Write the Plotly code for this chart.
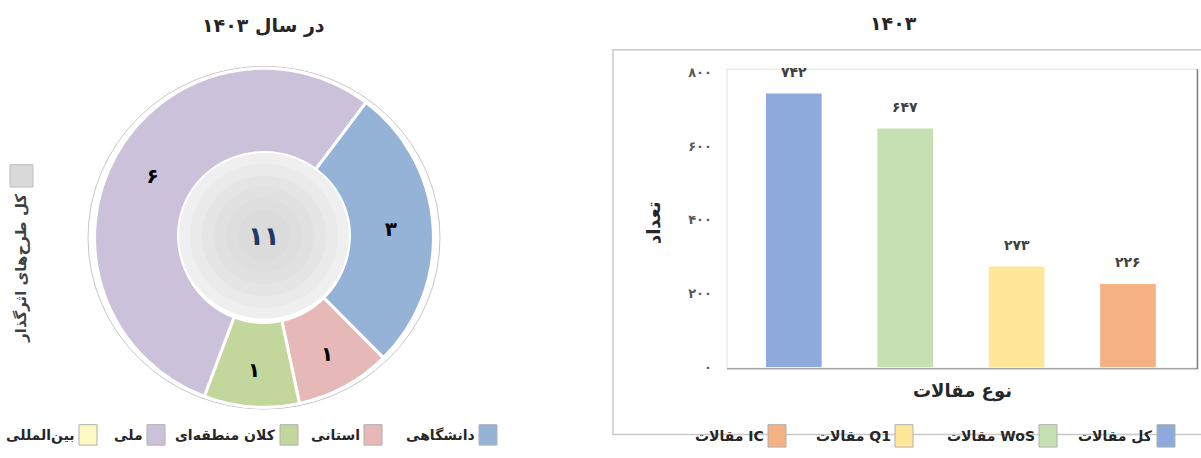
import plotly.graph_objects as go

W, H = 1201, 458

# ---- data ----
pie_labels = ['دانشگاهی', 'استانی', 'کلان منطقه‌ای', 'ملی', 'بین‌المللی']
pie_values = [3, 1, 1, 6, 0]
pie_colors = ['#95B3D7', '#E6B9B8', '#C3D69B', '#CCC1DA', '#FFF9C4']
pie_total = 11
pie_title = 'در سال ۱۴۰۳'
pie_side_label = 'کل طرح‌های اثرگذار'

bar_categories = ['کل مقالات', 'مقالات WoS', 'مقالات Q1', 'مقالات IC']
bar_values = [742, 647, 273, 226]
bar_colors = ['#8EA9DB', '#C6E0B4', '#FFE699', '#F4B183']
bar_title = '۱۴۰۳'
y_ticks = [0, 200, 400, 600, 800]


def fa(n):
    return str(n).translate(str.maketrans('0123456789', '۰۱۲۳۴۵۶۷۸۹'))


def px_x(v):
    return v / W


def px_y(v):
    return 1 - v / H


def label(x, y, text, size, color='#262626', xanchor='center', angle=0):
    # paper annotation placed by pixel position
    return dict(x=px_x(x), y=px_y(y), xref='paper', yref='paper', xanchor=xanchor, yanchor='middle',
                text='<b>' + text + '</b>', textangle=angle, showarrow=False,
                font=dict(family=FONT, size=size, color=color))


FONT = 'DejaVu Sans'

fig = go.Figure()

# donut (zero slices left out, they only show in the legend)
keep = [i for i, v in enumerate(pie_values) if v > 0]
cx, cy, r = 264, 240, 174
fig.add_trace(go.Pie(
    labels=[pie_labels[i] for i in keep],
    values=[pie_values[i] for i in keep],
    text=[fa(pie_values[i]) for i in keep],
    textinfo='text',
    insidetextorientation='horizontal',
    textfont=dict(family=FONT, size=20, color='black', weight='bold'),
    marker=dict(colors=[pie_colors[i] for i in keep], line=dict(color='white', width=3)),
    hole=0.5, sort=False, direction='clockwise', rotation=37,
    domain=dict(x=[px_x(cx - r), px_x(cx + r)], y=[px_y(cy + r), px_y(cy - r)]),
    showlegend=False, hoverinfo='skip',
))

# bars
fig.add_trace(go.Bar(
    x=bar_categories, y=bar_values,
    marker=dict(color=bar_colors, line=dict(width=0)),
    width=0.5, showlegend=False, hoverinfo='skip',
))

shapes = []
annotations = []

# outer thin ring of donut
shapes.append(dict(type='circle', xref='paper', yref='paper',
                   x0=px_x(cx - r - 2), x1=px_x(cx + r + 2), y0=px_y(cy + r + 2), y1=px_y(cy - r - 2),
                   line=dict(color='#C8C8C8', width=1), layer='below'))
# centre disc with a soft radial shading
steps = ['#EFEFEF', '#EAEAEA', '#E5E5E5', '#E1E1E1', '#DEDEDE', '#DBDBDB']
r0 = 86
for k, col in enumerate(steps):
    rr = r0 - k * 12
    shapes.append(dict(type='circle', xref='paper', yref='paper',
                       x0=px_x(cx - rr), x1=px_x(cx + rr), y0=px_y(cy - 2 + rr), y1=px_y(cy - 2 - rr),
                       fillcolor=col, line=dict(color='white' if k == 0 else col, width=2 if k == 0 else 0)))
annotations.append(label(cx, cy - 2, fa(pie_total), 26, color='#1F3864'))
annotations.append(label(263, 22, pie_title, 19))

# side legend (total)
shapes.append(dict(type='rect', xref='paper', yref='paper', x0=px_x(10), x1=px_x(33), y0=px_y(188), y1=px_y(165),
                   fillcolor='#D9D9D9', line=dict(color='#BFBFBF', width=1)))
annotations.append(label(21, 272, pie_side_label, 15, color='#404040', angle=-90))

# bottom legend of donut (right to left)
box_right = [497, 382, 298, 165, 97]
for lab, col, xr in zip(pie_labels, pie_colors, box_right):
    shapes.append(dict(type='rect', xref='paper', yref='paper', x0=px_x(xr - 18), x1=px_x(xr),
                       y0=px_y(453), y1=px_y(432), fillcolor=col, line=dict(color='#B0B0B0', width=1)))
    annotations.append(label(xr - 20, 443, lab, 14, xanchor='right'))

# right panel frame
shapes.append(dict(type='rect', xref='paper', yref='paper', x0=px_x(613), x1=px_x(1210), y0=px_y(442), y1=px_y(47),
                   line=dict(color='#C8C8C8', width=1.5), layer='below'))
# plot area border
shapes.append(dict(type='rect', xref='paper', yref='paper', x0=px_x(727), x1=px_x(1197), y0=px_y(374), y1=px_y(67),
                   line=dict(color='#E2E2E2', width=1), layer='below'))
shapes.append(dict(type='line', xref='paper', yref='paper', x0=px_x(727), x1=px_x(1197), y0=px_y(374.5), y1=px_y(374.5),
                   line=dict(color='#A6A6A6', width=1.5)))
shapes.append(dict(type='line', xref='paper', yref='paper', x0=px_x(1197.5), x1=px_x(1197.5), y0=px_y(375), y1=px_y(67),
                   line=dict(color='#7F7F7F', width=1.5)))

# value labels above bars
for c, v in zip(bar_categories, bar_values):
    annotations.append(dict(x=c, y=v, xref='x', yref='y', yshift=22, text='<b>' + fa(v) + '</b>',
                            xanchor='center', yanchor='middle', showarrow=False,
                            font=dict(family=FONT, size=14, color='#404040')))

annotations.append(label(893, 20, bar_title, 19))
annotations.append(label(962, 397, 'نوع مقالات', 18))
annotations.append(label(653, 225, 'تعداد', 18, angle=-90))

# bar legend (right to left)
lbox_right = [1175, 1057, 913, 786]
for lab, col, xr in zip(bar_categories, bar_colors, lbox_right):
    shapes.append(dict(type='rect', xref='paper', yref='paper', x0=px_x(xr - 18), x1=px_x(xr),
                       y0=px_y(455), y1=px_y(432), fillcolor=col, line=dict(color='#B0B0B0', width=1)))
    annotations.append(label(xr - 20, 444, lab, 14, xanchor='right'))

fig.update_layout(
    width=W, height=H,
    margin=dict(l=0, r=0, t=0, b=0),
    paper_bgcolor='white', plot_bgcolor='white',
    font=dict(family=FONT),
    shapes=shapes, annotations=annotations,
    xaxis=dict(domain=[px_x(727), px_x(1197)], range=[-0.6, 3.62], showticklabels=False,
               showgrid=False, zeroline=False, showline=False, ticks=''),
    yaxis=dict(domain=[px_y(373), px_y(67)], range=[0, 808], tickvals=y_ticks,
               ticktext=['<b>' + fa(t) + '</b>' for t in y_ticks], ticks='', ticklabelstandoff=14,
               tickfont=dict(family=FONT, size=13, color='#595959'),
               showgrid=False, zeroline=False, showline=False),
)

fig.write_html("out.html", config={'displayModeBar': False},
               post_script="document.body.style.margin='0';document.documentElement.style.overflow='hidden';")
